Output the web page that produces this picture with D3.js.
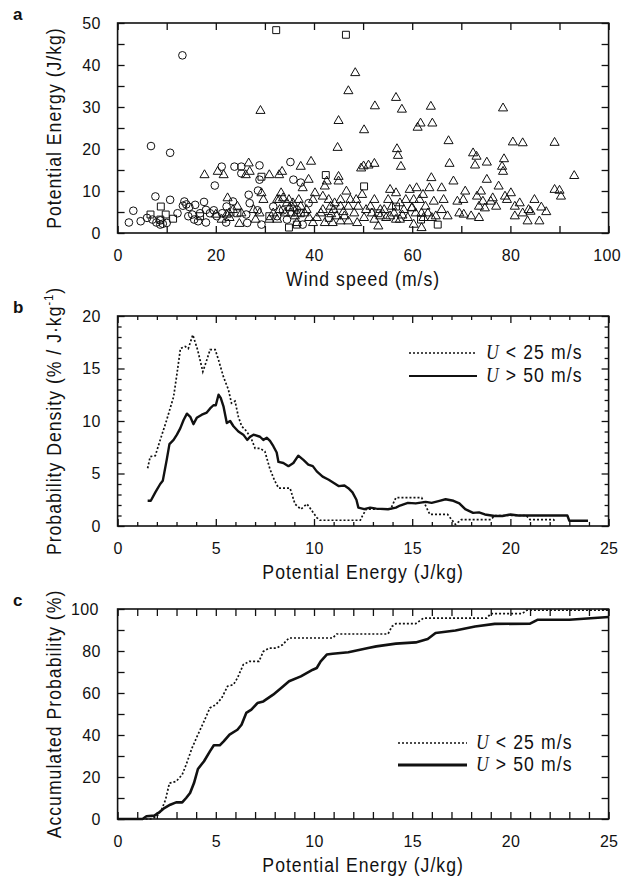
<!DOCTYPE html>
<html>
<head>
<meta charset="utf-8">
<script src="https://cdn.jsdelivr.net/npm/d3@7"></script>
<style>
  body { margin: 0; background: #fff; }
  svg text { font-family: "Liberation Sans", Arial, sans-serif; fill: #111; }
</style>
</head>
<body>
<div id="chart"></div>
<script>
// panel a : wind speed (m/s) vs potential energy (J/kg)
var circlePts = [
  [2.3,2.5],[3.2,5.3],[4.7,2.8],[6.0,3.6],[6.8,20.7],[7.7,8.7],[7.1,3.2],[7.9,2.5],[8.7,2.0],[8.7,3.0],
  [10.0,2.4],[10.7,19.1],[10.7,7.9],[12.2,4.7],[13.2,42.3],[13.6,7.5],[13.3,6.5],[14.6,6.2],[15.2,4.4],[15.8,6.7],
  [15.6,3.2],[16.8,4.7],[17.6,7.4],[18.0,2.5],[18.8,4.7],[19.6,5.4],[19.8,11.3],[20.2,4.0],[21.2,15.8],[21.3,4.7],
  [22.1,2.5],[22.2,6.3],[23.5,7.5],[23.8,15.8],[25.2,15.8],[25.2,14.2],[26.2,4.4],[26.7,9.1],[26.9,7.1],[26.4,2.4],
  [28.9,16.1],[28.9,12.7],[28.6,10.1],[28.5,5.4],[29.3,2.0],[35.2,16.9],[35.8,12.7],[37.3,12.0],[37.7,2.0],[38.9,7.1],
  [32.5,4.0],[31.7,6.3],[33.7,5.4],[34.5,3.2],[36.5,5.5],[18.0,5.5],[14.4,4.0],[16.4,2.8],[9.2,2.2],[14.0,6.8]
];
var squarePts = [
  [32.3,48.3],[46.5,47.2],[8.8,6.3],[9.8,4.4],[11.3,3.4],[8.7,3.2],[42.4,13.8],[50.2,11.1],[65.2,2.0],[34.9,1.3],
  [36.5,2.0],[24.4,4.7],[29.3,13.4],[30.9,4.0],[43.0,3.6],[61.8,3.2],[53.1,4.7],[6.7,4.4],[56.7,6.3],[37.3,4.7],[16.8,4.0]
];
var trianglePts = [
  [29.1,29.1],[45.0,26.7],[44.8,20.3],[47.0,33.8],[48.4,38.1],[50.2,24.5],[52.4,30.2],[56.7,32.2],[57.9,29.4],[56.9,20.0],
  [57.1,18.4],[57.7,15.8],[61.1,25.1],[61.7,26.1],[64.1,26.1],[63.8,30.1],[67.4,21.9],[67.6,16.5],[72.4,19.0],[73.1,18.2],
  [72.8,16.1],[75.2,16.8],[78.5,29.7],[78.7,17.6],[78.3,15.8],[78.5,14.6],[80.5,21.6],[82.5,21.4],[89.0,21.5],[93.0,13.6],
  [89.0,10.3],[90.0,10.1],[90.3,8.7],[84.9,7.9],[86.3,6.1],[87.3,5.0],[85.9,2.8],[83.5,2.8],[83.7,5.5],[81.9,7.1],
  [80.9,4.0],[80.1,9.5],[78.9,8.7],[77.6,11.1],[77.1,6.3],[76.4,8.3],[75.2,12.7],[74.8,5.9],[74.0,9.9],[73.2,8.7],
  [73.6,3.6],[72.0,4.0],[70.5,4.4],[69.6,4.7],[70.4,7.9],[69.2,7.5],[68.4,12.3],[66.4,7.9],[66.0,10.7],[66.0,5.5],
  [63.9,13.1],[63.5,10.7],[64.4,7.5],[63.2,4.7],[64.0,3.6],[61.9,4.7],[62.2,9.1],[60.9,10.7],[60.3,7.9],[59.9,5.9],
  [59.5,10.3],[58.7,7.9],[58.3,5.5],[57.5,7.1],[56.7,9.5],[56.3,4.7],[55.5,10.3],[55.1,7.9],[54.7,3.6],[53.5,4.0],
  [53.1,1.6],[52.3,7.9],[51.5,6.3],[51.1,16.1],[52.3,16.5],[49.6,15.4],[50.1,15.9],[49.8,9.1],[49.0,6.3],[48.2,4.7],
  [47.4,7.9],[46.6,9.9],[46.2,4.0],[45.4,6.3],[45.0,13.4],[45.0,12.3],[44.6,4.0],[44.2,7.1],[43.8,2.4],[43.4,6.3],
  [42.6,12.3],[42.2,11.1],[41.8,8.7],[41.4,4.7],[40.2,9.5],[39.4,17.0],[37.3,15.8],[38.9,12.7],[37.7,10.7],[38.5,5.5],
  [36.9,7.9],[35.7,5.9],[34.9,7.9],[33.5,14.6],[32.9,13.8],[33.3,9.5],[32.9,7.9],[31.7,4.7],[30.9,13.8],[29.7,7.9],
  [29.3,9.5],[28.1,3.2],[26.9,14.6],[26.1,13.8],[25.2,4.7],[24.4,6.3],[22.4,8.3],[22.2,4.4],[21.6,13.8],[20.4,14.6],
  [17.7,13.8],[24.8,2.2],[26.7,16.6],[20.0,4.4],[22.8,3.6],[48.8,2.4],[50.2,3.6],[54.3,5.5],[57.5,3.2],[60.3,2.0],
  [61.9,1.2],[40.6,3.6],[39.8,2.4],[36.5,2.4],[34.1,4.7],[32.5,7.9],[32.5,3.2],[43.0,7.9],[45.4,7.9],[47.0,6.3],
  [48.6,7.9],[50.6,5.5],[51.8,4.7],[52.3,3.2],[55.9,6.3],[59.1,3.6],[60.7,4.7],[61.5,7.9],[62.3,3.6],[62.7,6.3],
  [64.8,4.0],[73.6,6.3],[74.4,7.5],[76.0,7.5],[79.3,7.9],[80.9,6.3],[82.5,4.7],[70.8,9.9],[67.2,4.0],[84.1,5.1],
  [56.7,3.2],[55.5,4.0],[53.5,5.5],[47.0,2.8],[45.4,2.8],[42.2,2.4],[41.8,5.5],[39.8,7.9],[38.1,4.7],[36.1,4.0],
  [35.3,4.7],[34.5,7.1],[33.7,8.3],[35.7,7.1],[37.3,6.3],[36.5,4.7],[30.9,3.2],[28.9,4.7],[27.7,5.5],[22.7,4.7],
  [23.5,5.5],[21.2,3.2],[44.0,5.5],[46.0,5.0],[43.5,4.5],[58.0,4.2],[60.0,6.0],[35.0,6.0],[33.0,5.5],[39.0,3.6]
];

// panel b : probability density (% per J/kg)
var pdfLow = [
  [1.53,5.5],[1.66,6.6],[1.92,6.7],[2.17,8.2],[2.5,10.1],[2.85,12.3],[3.0,14.2],[3.2,16.9],[3.44,17.1],[3.6,16.9],
  [3.83,18.2],[4.07,16.8],[4.34,14.7],[4.54,15.8],[4.71,16.8],[4.97,16.8],[5.14,15.8],[5.39,14.2],[5.64,13.0],[5.8,11.7],
  [5.98,11.9],[6.15,10.4],[6.32,9.5],[6.58,9.0],[6.83,8.2],[7.0,7.4],[7.25,7.4],[7.5,7.1],[7.76,5.4],[8.0,4.3],
  [8.2,3.6],[8.78,3.6],[9.03,2.1],[9.33,1.6],[9.64,2.1],[9.84,1.6],[10.14,0.8],[10.3,0.55],[12.36,0.55],[12.46,0.95],
  [12.66,1.6],[13.9,1.6],[14.17,2.7],[15.48,2.7],[15.9,1.1],[16.8,1.1],[17.2,0.16],[17.5,0.6],[19.0,0.6],[19.2,1.0],
  [20.8,1.0],[21.0,0.6],[22.2,0.6],[22.3,0.35]
];
var pdfHigh = [
  [1.53,2.4],[1.69,2.4],[1.92,3.2],[2.17,4.0],[2.3,4.3],[2.5,6.3],[2.64,7.8],[2.85,8.2],[3.02,8.7],[3.19,9.3],
  [3.36,10.1],[3.53,10.7],[3.7,10.4],[3.86,9.7],[4.03,10.3],[4.29,10.6],[4.54,10.8],[4.71,11.2],[4.88,11.5],[5.0,11.5],
  [5.14,12.5],[5.25,12.2],[5.39,11.4],[5.56,9.8],[5.73,10.0],[5.9,9.5],[6.15,9.0],[6.4,8.7],[6.6,8.2],[6.75,8.5],
  [6.92,8.7],[7.25,8.5],[7.42,8.2],[7.6,8.4],[7.76,8.1],[7.93,7.6],[8.1,7.0],[8.19,6.1],[8.44,6.0],[8.7,5.7],
  [8.95,6.0],[9.2,6.7],[9.46,6.3],[9.71,5.85],[9.94,5.7],[10.14,5.2],[10.44,4.7],[10.75,4.4],[11.05,4.05],[11.25,3.8],
  [11.55,3.86],[11.75,3.6],[11.96,3.2],[12.16,2.5],[12.26,1.75],[12.56,1.6],[12.86,1.75],[13.17,1.65],[13.77,1.6],[14.17,1.75],
  [14.38,1.95],[14.78,2.2],[15.18,2.15],[15.69,2.3],[15.99,2.2],[16.39,2.4],[16.7,2.55],[17.1,2.4],[17.4,2.15],[17.7,1.6],
  [18.1,1.25],[18.4,1.3],[18.7,1.1],[19.2,0.95],[19.6,0.95],[20.0,1.1],[20.4,1.0],[20.8,1.0],[21.4,1.0],[22.9,1.0],
  [23.0,0.5],[23.95,0.5]
];

// panel c : accumulated probability (%)
var cdfLow = [
  [0,0],[1.67,0],[1.98,1],[2.24,4.4],[2.44,9.2],[2.64,17.1],[2.98,17.9],[3.29,21.1],[3.49,25.9],[3.79,33.8],
  [4.09,40.2],[4.4,46.5],[4.7,52.9],[5.0,54.4],[5.3,57.6],[5.6,63.2],[5.9,64],[6.1,67.1],[6.4,73.5],[6.71,75.1],
  [7.2,75.1],[7.42,79.8],[7.72,81.4],[8.1,81.4],[8.4,83],[8.73,86.2],[10.95,86.2],[11.15,88.1],[13.77,88.1],[13.97,91.7],
  [14.17,93],[15.18,93],[15.58,95.7],[18.8,95.7],[19.0,97.8],[20.6,97.8],[20.83,99.4],[25,99.4]
];
var cdfHigh = [
  [0,0],[1.27,0],[1.47,1.3],[1.87,1.6],[2.08,2.9],[2.38,5.2],[2.68,6.8],[2.98,7.9],[3.29,7.9],[3.49,10],
  [3.69,12.4],[3.89,17.1],[4.09,23.8],[4.4,27.5],[4.7,32.2],[4.9,35.1],[5.2,35.1],[5.4,37],[5.7,40.2],[6.1,42.5],
  [6.31,44.9],[6.55,50.5],[6.81,52.1],[7.12,55.2],[7.42,56],[7.92,59.2],[8.33,62.4],[8.73,65.6],[9.33,67.9],[9.94,71.1],
  [10.14,71.9],[10.34,75.1],[10.65,78.3],[10.95,78.7],[11.75,79.4],[12.76,81.4],[13.17,82.2],[14.17,83.5],[15.18,84.1],[15.79,85.7],
  [16.19,88.6],[17.2,89.8],[18.2,91.7],[19.2,92.9],[21.0,93],[21.4,94.9],[23.0,94.9],[25,96.2]
];

var legendLabels = [["U", " < 25 m/s"], ["U", " > 50 m/s"]];

var W = 621, H = 876;
var left = 117.6, pw = 491, ph = 210;
var condense = 'scale(0.84,1)';

var svg = d3.select('#chart').append('svg')
  .attr('width', W)
  .attr('height', H);

function frame(g, x, y, c) {
  // labelled ticks (bottom / left), inward
  g.append('g')
    .attr('transform', 'translate(0,' + ph + ')')
    .call(d3.axisBottom(x).tickValues(c.xLab).tickSize(-7).tickPadding(17).tickSizeOuter(0));
  g.append('g')
    .call(d3.axisLeft(y).tickValues(c.yLab).tickSize(-7).tickPadding(17).tickSizeOuter(0));
  g.append('g')
    .call(d3.axisTop(x).tickValues(c.xLab).tickSize(-7).tickFormat('').tickSizeOuter(0));
  g.append('g')
    .attr('transform', 'translate(' + pw + ',0)')
    .call(d3.axisRight(y).tickValues(c.yLab).tickSize(-7).tickFormat('').tickSizeOuter(0));
  // minor ticks
  g.append('g')
    .attr('transform', 'translate(0,' + ph + ')')
    .call(d3.axisBottom(x).tickValues(c.xMin).tickSize(-c.minLen).tickFormat('').tickSizeOuter(0));
  g.append('g')
    .call(d3.axisTop(x).tickValues(c.xMin).tickSize(-c.minLen).tickFormat('').tickSizeOuter(0));
  g.append('g')
    .call(d3.axisLeft(y).tickValues(c.yMin).tickSize(-c.minLen).tickFormat('').tickSizeOuter(0));
  g.append('g')
    .attr('transform', 'translate(' + pw + ',0)')
    .call(d3.axisRight(y).tickValues(c.yMin).tickSize(-c.minLen).tickFormat('').tickSizeOuter(0));

  g.selectAll('.domain').remove();
  g.selectAll('.tick line').attr('stroke', '#111').attr('stroke-width', 1.3);
  g.selectAll('.tick text')
    .style('font-size', '16px')
    .style('letter-spacing', '0.3px')
    .attr('fill', '#111');
  // the last x label sits on the page edge, pull it in slightly
  g.selectAll('.tick text').filter(function(d) { return d === 100; }).attr('dx', '-2');

  g.append('rect')
    .attr('width', pw).attr('height', ph)
    .attr('fill', 'none').attr('stroke', '#111').attr('stroke-width', 1.6);

  // axis titles
  g.append('text')
    .attr('transform', 'translate(' + (pw / 2) + ',' + (ph + 53) + ') ' + condense)
    .attr('text-anchor', 'middle')
    .style('font-size', '21px').style('letter-spacing', '1.2px')
    .text(c.xTitle);
  var yt = g.append('text')
    .attr('transform', 'translate(' + (61 - left) + ',' + (ph / 2) + ') rotate(-90) ' + condense)
    .attr('text-anchor', 'middle')
    .style('font-size', '21px').style('letter-spacing', '1.2px');
  c.yTitle.forEach(function(p) {
    var t = yt.append('tspan').text(p[0]);
    if (p[1]) t.attr('baseline-shift', 'super').style('font-size', '13px');
  });

  // panel letter
  g.append('text')
    .attr('x', 13 - left).attr('y', -3)
    .style('font-weight', 'bold').style('font-size', '17px')
    .text(c.letter);
}

function range(a, b, s) { return d3.range(a, b + s / 2, s); }

// ---------- panel a ----------
var ga = svg.append('g').attr('transform', 'translate(' + left + ',23)');
var xa = d3.scaleLinear().domain([0, 100]).range([0, pw]);
var ya = d3.scaleLinear().domain([0, 50]).range([ph, 0]);

frame(ga, xa, ya, {
  xLab: range(0, 100, 20), xMin: range(10, 90, 20),
  yLab: range(0, 50, 10), yMin: range(5, 45, 10), minLen: 7,
  xTitle: 'Wind speed (m/s)', yTitle: [['Potential Energy (J/kg)']], letter: 'a'
});

function drawSym(g, pts, type, size) {
  g.append('g').selectAll('path')
    .data(pts)
    .enter()
    .append('path')
    .attr('d', d3.symbol().type(type).size(size))
    .attr('transform', function(d) { return 'translate(' + xa(d[0]) + ',' + ya(d[1]) + ')'; })
    .attr('fill', 'none')
    .attr('stroke', '#111')
    .attr('stroke-width', 1);
}
drawSym(ga, trianglePts, d3.symbolTriangle, 36);
drawSym(ga, circlePts, d3.symbolCircle, 46);
drawSym(ga, squarePts, d3.symbolSquare, 48);

// ---------- panel b ----------
var gb = svg.append('g').attr('transform', 'translate(' + left + ',316)');
var xb = d3.scaleLinear().domain([0, 25]).range([0, pw]);
var yb = d3.scaleLinear().domain([0, 20]).range([ph, 0]);

frame(gb, xb, yb, {
  xLab: range(0, 25, 5), xMin: d3.range(1, 25).filter(function(v) { return v % 5; }),
  yLab: range(0, 20, 5), yMin: d3.range(1, 20).filter(function(v) { return v % 5; }), minLen: 4,
  xTitle: 'Potential Energy (J/kg)',
  yTitle: [['Probability Density (% / J·kg'], ['-1', true], [')']], letter: 'b'
});

var lineB = d3.line().x(function(d) { return xb(d[0]); }).y(function(d) { return yb(d[1]); });
gb.append('path').attr('d', lineB(pdfLow))
  .attr('fill', 'none').attr('stroke', '#111').attr('stroke-width', 1.7).attr('stroke-dasharray', '2,2');
gb.append('path').attr('d', lineB(pdfHigh))
  .attr('fill', 'none').attr('stroke', '#111').attr('stroke-width', 2.4).attr('stroke-linejoin', 'round');

function legend(g, x0, x1, y0, dy, solidW) {
  legendLabels.forEach(function(l, i) {
    var yy = y0 + i * dy;
    g.append('line')
      .attr('x1', x0 - left).attr('x2', x1 - left).attr('y1', yy).attr('y2', yy)
      .attr('stroke', '#111')
      .attr('stroke-width', i ? solidW : 1.7)
      .attr('stroke-dasharray', i ? null : '2,2');
    var t = g.append('text')
      .attr('transform', 'translate(' + (x1 + 9 - left) + ',' + (yy + 6) + ') ' + condense)
      .style('font-size', '21px').style('letter-spacing', '1.3px');
    t.append('tspan').style('font-style', 'italic').style('font-family', '"Liberation Serif", serif').text(l[0]);
    t.append('tspan').text(l[1]);
  });
}
legend(gb, 409, 477, 353 - 316, 23, 2.2);

// ---------- panel c ----------
var gc = svg.append('g').attr('transform', 'translate(' + left + ',609)');
var xc = d3.scaleLinear().domain([0, 25]).range([0, pw]);
var yc = d3.scaleLinear().domain([0, 100]).range([ph, 0]);

frame(gc, xc, yc, {
  xLab: range(0, 25, 5), xMin: d3.range(1, 25).filter(function(v) { return v % 5; }),
  yLab: range(0, 100, 20), yMin: range(10, 90, 20), minLen: 7,
  xTitle: 'Potential Energy (J/kg)', yTitle: [['Accumulated Probability (%)']], letter: 'c'
});

var lineC = d3.line().x(function(d) { return xc(d[0]); }).y(function(d) { return yc(d[1]); });
gc.append('path').attr('d', lineC(cdfLow))
  .attr('fill', 'none').attr('stroke', '#111').attr('stroke-width', 1.7).attr('stroke-dasharray', '2,2');
gc.append('path').attr('d', lineC(cdfHigh))
  .attr('fill', 'none').attr('stroke', '#111').attr('stroke-width', 2.6).attr('stroke-linejoin', 'round');

legend(gc, 398, 467, 743 - 609, 22, 3);
</script>
</body>
</html>
